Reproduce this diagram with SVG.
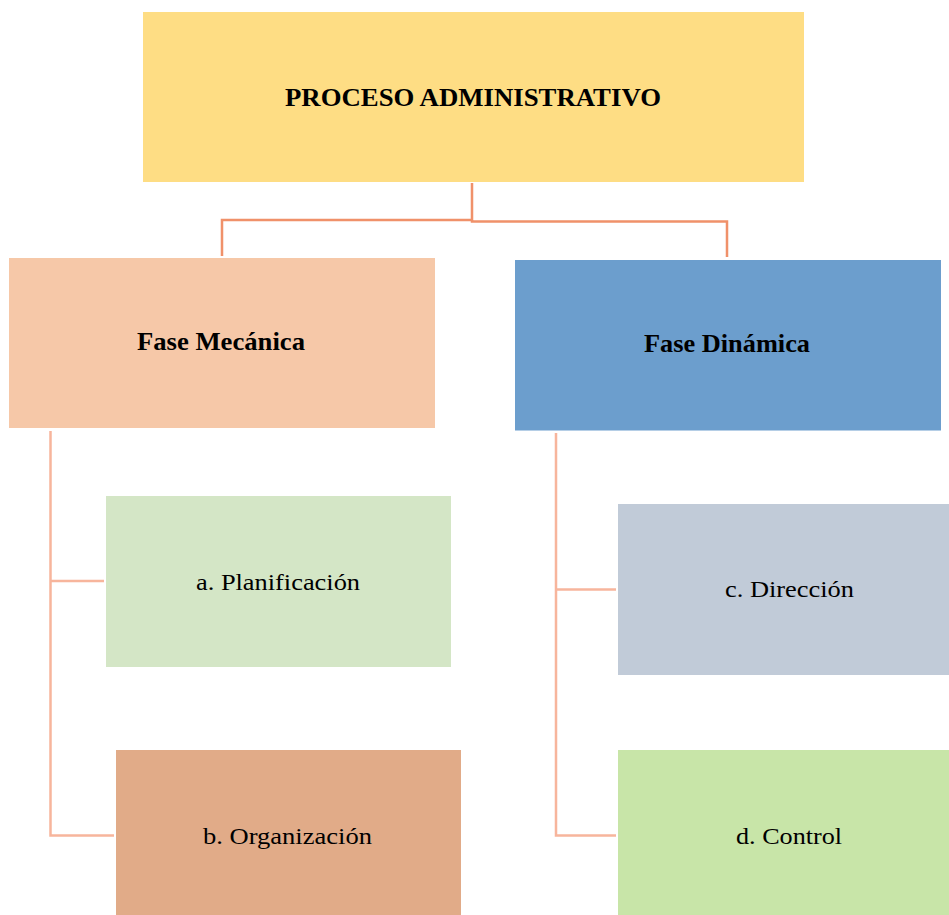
<svg xmlns="http://www.w3.org/2000/svg" width="949" height="915" viewBox="0 0 949 915">
  <style>
    .lbl { font-family: "Liberation Serif", "Times New Roman", serif; font-size: 24px; fill: #000; text-anchor: middle; }
    .bold { font-weight: bold; font-size: 25px; }
    .top-link { fill: none; stroke: #F0916A; stroke-width: 2.5; }
    .sub-link { fill: none; stroke: #F7B59C; stroke-width: 2.5; }
  </style>
  <rect width="949" height="915" fill="#ffffff"/>

  <!-- connectors -->
  <g id="connectors">
    <path class="top-link" d="M472,183 V220 H222 V256"/>
    <path class="top-link" d="M472,220 V221.5 H727 V257"/>
    <path class="sub-link" d="M50.5,431 V835.5 H114"/>
    <path class="sub-link" d="M50.5,581 H104"/>
    <path class="sub-link" d="M556,433 V835.5 H616"/>
    <path class="sub-link" d="M556,589.5 H616"/>
  </g>

  <!-- root -->
  <g id="proceso">
    <rect x="143" y="12" width="661" height="170" fill="#FEDD84"/>
    <text class="lbl bold" x="473" y="106" textLength="376" lengthAdjust="spacingAndGlyphs">PROCESO ADMINISTRATIVO</text>
  </g>

  <!-- phases -->
  <g id="fase-mecanica">
    <rect x="9" y="258" width="426" height="170" fill="#F6C8A8"/>
    <text class="lbl bold" x="221" y="349.5" textLength="168" lengthAdjust="spacingAndGlyphs">Fase Mecánica</text>
  </g>
  <g id="fase-dinamica">
    <rect x="515" y="260" width="426" height="170.5" fill="#6C9ECD"/>
    <text class="lbl bold" x="727" y="352" textLength="166" lengthAdjust="spacingAndGlyphs">Fase Dinámica</text>
  </g>

  <!-- stages -->
  <g id="planificacion">
    <rect x="106" y="496" width="345" height="171" fill="#D4E6C6"/>
    <text class="lbl" x="278" y="590" textLength="164" lengthAdjust="spacingAndGlyphs">a. Planificación</text>
  </g>
  <g id="organizacion">
    <rect x="116" y="750" width="345" height="165" fill="#E1AB88"/>
    <text class="lbl" x="287.5" y="844" textLength="169" lengthAdjust="spacingAndGlyphs">b. Organización</text>
  </g>
  <g id="direccion">
    <rect x="618" y="504" width="331" height="171" fill="#C1CBD8"/>
    <text class="lbl" x="789.5" y="597" textLength="129" lengthAdjust="spacingAndGlyphs">c. Dirección</text>
  </g>
  <g id="control">
    <rect x="618" y="750" width="331" height="165" fill="#C8E5A8"/>
    <text class="lbl" x="789" y="844" textLength="106" lengthAdjust="spacingAndGlyphs">d. Control</text>
  </g>
</svg>
